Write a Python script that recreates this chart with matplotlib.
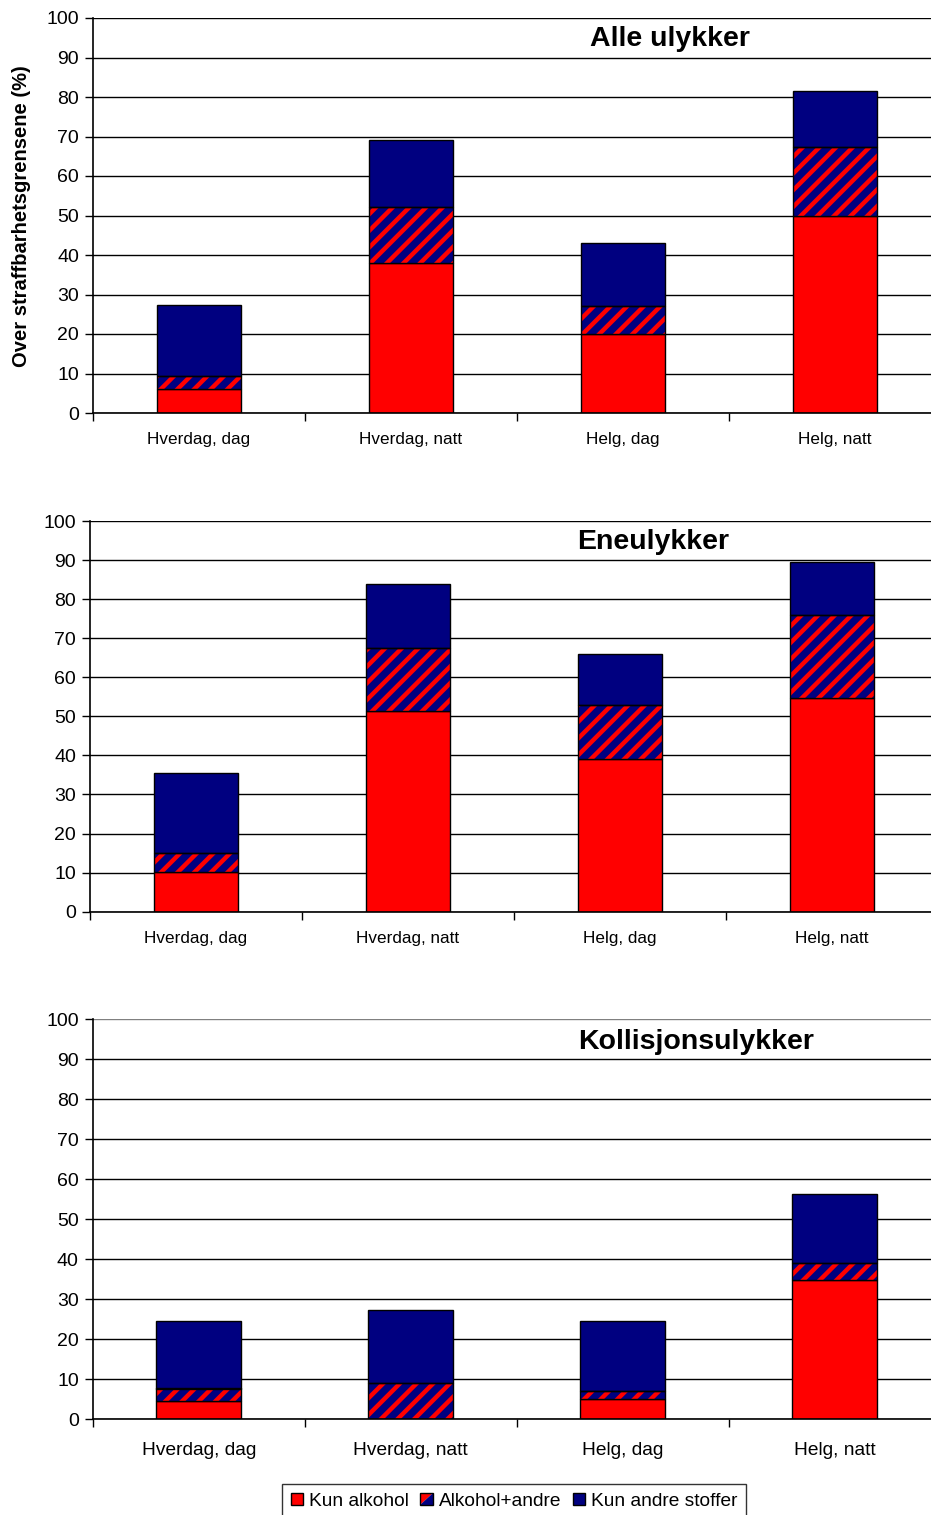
import numpy as np
import matplotlib
matplotlib.use("Agg")
import matplotlib.pyplot as plt
from matplotlib.patches import Rectangle, Polygon
from matplotlib.legend_handler import HandlerBase

plt.rcParams['font.family'] = ['Liberation Sans', 'DejaVu Sans']
plt.rcParams['hatch.linewidth'] = 3.2

categories = ['Hverdag, dag', 'Hverdag, natt', 'Helg, dag', 'Helg, natt']
series_names = ['Kun alkohol', 'Alkohol+andre', 'Kun andre stoffer']

# Alle ulykker
alle_alkohol = [6.0, 38.0, 20.0, 50.0]
alle_begge = [3.4, 14.2, 7.2, 17.4]
alle_andre = [17.9, 16.9, 15.8, 14.1]

# Eneulykker
ene_alkohol = [10.1, 51.4, 39.1, 54.7]
ene_begge = [5.0, 16.1, 13.8, 21.3]
ene_andre = [20.5, 16.4, 13.1, 13.5]

# Kollisjonsulykker
koll_alkohol = [4.6, 0.0, 5.1, 34.8]
koll_begge = [3.1, 9.2, 2.0, 4.4]
koll_andre = [16.9, 18.1, 17.5, 17.1]

RED = '#FF0000'
NAVY = '#000080'
W, H = 931, 1515

fig = plt.figure(figsize=(W / 100, H / 100), dpi=100)


def draw_panel(rect, alk, begge, andre, title, title_xy, xlab_size, xpad, top_grid='black'):
    left, top, right, bottom = rect
    ax = fig.add_axes([left / W, 1 - bottom / H, (right - left) / W, (bottom - top) / H])
    x = np.arange(len(categories))
    alk = np.array(alk)
    begge = np.array(begge)
    andre = np.array(andre)
    bw = 0.4
    ax.bar(x, alk, bw, color=RED, edgecolor='black', linewidth=1.0, zorder=2)
    ax.bar(x, begge, bw, bottom=alk, color=NAVY, edgecolor=RED, hatch='//',
           linewidth=0, zorder=2)
    ax.bar(x, begge, bw, bottom=alk, fill=False, edgecolor='black', linewidth=1.0, zorder=3)
    ax.bar(x, andre, bw, bottom=alk + begge, color=NAVY, edgecolor='black',
           linewidth=1.0, zorder=2)

    ax.set_yticks(range(0, 101, 10))
    ax.yaxis.grid(True, color='black', linewidth=1.0)
    ax.get_ygridlines()[-1].set_color(top_grid)
    ax.set_axisbelow(True)
    ax.tick_params(axis='y', labelsize=14, length=6, width=1, pad=4)

    ax.set_xticks(x)
    ax.set_xticklabels(categories, fontsize=xlab_size)
    ax.tick_params(axis='x', which='major', length=0, pad=xpad)
    ax.set_xticks(np.arange(-0.5, 4.0, 1.0), minor=True)
    ax.tick_params(axis='x', which='minor', length=6, width=1)

    # limits after the ticks so the category spacing stays fixed
    ax.set_ylim(0, 100)
    ax.set_xlim(-0.5, -0.5 + (right - left) / 212.0)

    for s in ['top', 'right']:
        ax.spines[s].set_visible(False)
    for s in ['left', 'bottom']:
        ax.spines[s].set_linewidth(1.2)

    fig.text(title_xy[0] / W, 1 - title_xy[1] / H, title, fontsize=20.5,
             fontweight='bold', ha='center', va='center')
    return ax


draw_panel((93, 18, 931, 413), alle_alkohol, alle_begge, alle_andre,
           'Alle ulykker', (670, 39), 12.3, 14)
draw_panel((90, 521, 931, 911.7), ene_alkohol, ene_begge, ene_andre,
           'Eneulykker', (653, 542), 12.3, 14)
draw_panel((92.7, 1019.3, 931, 1419.3), koll_alkohol, koll_begge, koll_andre,
           'Kollisjonsulykker', (696, 1042), 13.8, 16, top_grid='#808080')

fig.text(22 / W, 1 - 216 / H, 'Over straffbarhetsgrensene (%)', rotation=90,
         fontsize=14.5, fontweight='bold', ha='center', va='center')


class SplitHandler(HandlerBase):
    def create_artists(self, legend, orig_handle, xdescent, ydescent,
                       width, height, fontsize, trans):
        x0, y0 = -xdescent, -ydescent
        upper = Polygon([[x0, y0], [x0, y0 + height], [x0 + width, y0 + height]],
                        closed=True, facecolor=RED, edgecolor='none', transform=trans)
        lower = Polygon([[x0, y0], [x0 + width, y0], [x0 + width, y0 + height]],
                        closed=True, facecolor=NAVY, edgecolor='none', transform=trans)
        box = Rectangle((x0, y0), width, height, fill=False, edgecolor='black',
                        linewidth=1.0, transform=trans)
        return [upper, lower, box]


h_alk = Rectangle((0, 0), 1, 1, facecolor=RED, edgecolor='black', linewidth=1.0)
h_begge = Rectangle((0, 0), 1, 1, facecolor=NAVY)
h_andre = Rectangle((0, 0), 1, 1, facecolor=NAVY, edgecolor='black', linewidth=1.0)

leg = fig.legend([h_alk, h_begge, h_andre], series_names,
                 handler_map={h_begge: SplitHandler()},
                 loc='upper center', bbox_to_anchor=(514 / W, 1 - 1484 / H),
                 ncol=3, fontsize=13.8, frameon=True, fancybox=False,
                 handlelength=0.65, handleheight=0.65, handletextpad=0.3,
                 columnspacing=0.6, borderpad=0.45, borderaxespad=0)
leg.get_frame().set_edgecolor('black')
leg.get_frame().set_linewidth(1.0)

fig.savefig('out.png', dpi=100)
